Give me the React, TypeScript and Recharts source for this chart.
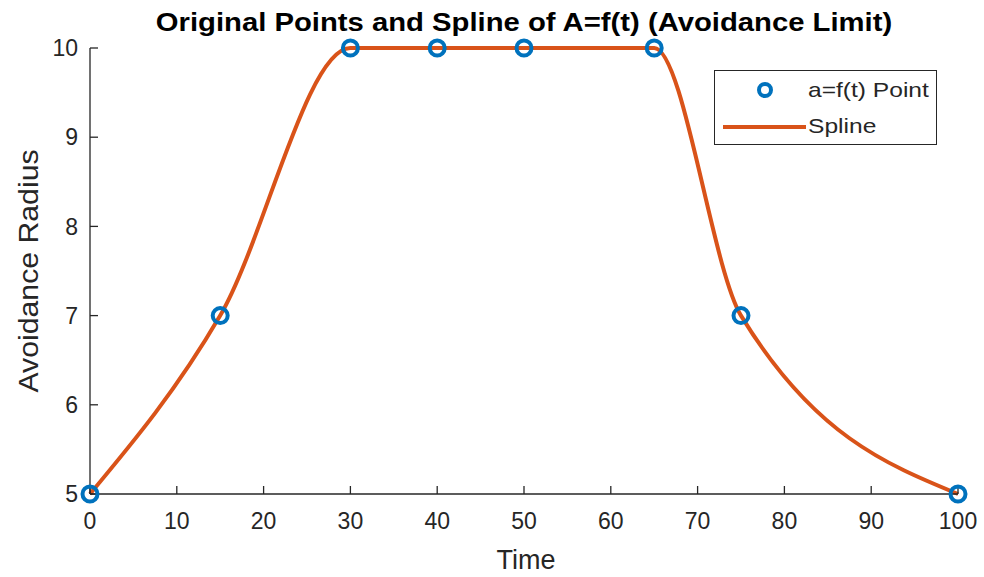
import React from 'react';
import { ComposedChart, Line, Scatter, XAxis, YAxis, Legend } from 'recharts';

const timePoints = [0, 15, 30, 40, 50, 65, 75, 100];
const radiusPoints = [5, 7, 10, 10, 10, 10, 7, 5];
const xTicks = [0, 10, 20, 30, 40, 50, 60, 70, 80, 90, 100];
const yTicks = [5, 6, 7, 8, 9, 10];
const titleText = 'Original Points and Spline of A=f(t) (Avoidance Limit)';
const xLabel = 'Time';
const yLabel = 'Avoidance Radius';
const pointName = 'a=f(t) Point';
const splineName = 'Spline';

const data = timePoints.map((t, i) => ({ t, a: radiusPoints[i] }));

const BLUE = '#0072BD';
const ORANGE = '#D95319';
const INK = '#262626';
const FONT = '"Liberation Sans", Arial, Helvetica, sans-serif';

const Ring = (props: any) => {
  const { cx, cy } = props;
  if (cx == null || cy == null) return null;
  return <circle cx={cx} cy={cy} r={7.5} fill="none" stroke={BLUE} strokeWidth={4} />;
};

const LegendBox = () => (
  <div
    style={{
      width: 223,
      height: 75,
      border: `1.3px solid ${INK}`,
      background: '#fff',
      boxSizing: 'border-box',
      position: 'relative',
      fontFamily: FONT,
      fontSize: 21,
      color: INK,
    }}
  >
    <svg width={221} height={73} style={{ position: 'absolute', left: 0, top: 0 }}>
      <circle cx={50} cy={19} r={6} fill="none" stroke={BLUE} strokeWidth={4} />
      <line x1={8} x2={91} y1={56} y2={56} stroke={ORANGE} strokeWidth={4} />
    </svg>
    <div
      style={{
        position: 'absolute',
        left: 93,
        top: 19,
        transform: 'translateY(-50%) scaleX(1.17)',
        transformOrigin: 'left center',
        whiteSpace: 'nowrap',
      }}
    >
      {pointName}
    </div>
    <div
      style={{
        position: 'absolute',
        left: 93,
        top: 55,
        transform: 'translateY(-50%) scaleX(1.17)',
        transformOrigin: 'left center',
        whiteSpace: 'nowrap',
      }}
    >
      {splineName}
    </div>
  </div>
);

export default function App() {
  const tickStyle = { fill: INK, fontSize: 23, fontFamily: FONT };
  const axisStroke = { stroke: INK, strokeWidth: 1.3 };
  return (
    <div style={{ position: 'absolute', left: 0, top: 0, width: 984, height: 577, background: '#fff' }}>
      <ComposedChart
        width={984}
        height={577}
        data={data}
        margin={{ top: 48, right: 26, bottom: 33, left: 30 }}
      >
        <XAxis
          xAxisId="bottom"
          dataKey="t"
          type="number"
          domain={[0, 100]}
          ticks={xTicks}
          orientation="bottom"
          height={50}
          tickSize={-8}
          tickMargin={27}
          tick={tickStyle}
          axisLine={axisStroke}
          tickLine={axisStroke}
        />
        <XAxis
          xAxisId="top"
          dataKey="t"
          type="number"
          domain={[0, 100]}
          ticks={xTicks}
          orientation="top"
          height={0}
          tickSize={-8}
          tickFormatter={() => ''}
          axisLine={axisStroke}
          tickLine={axisStroke}
        />
        <YAxis
          yAxisId="left"
          type="number"
          domain={[5, 10]}
          ticks={yTicks}
          orientation="left"
          width={60}
          tickSize={-8}
          tickMargin={20}
          tick={tickStyle}
          axisLine={axisStroke}
          tickLine={axisStroke}
        />
        <YAxis
          yAxisId="right"
          type="number"
          domain={[5, 10]}
          ticks={yTicks}
          orientation="right"
          width={0}
          tickSize={-8}
          tickFormatter={() => ''}
          axisLine={axisStroke}
          tickLine={axisStroke}
        />
        <Scatter
          xAxisId="bottom"
          yAxisId="left"
          name={pointName}
          dataKey="a"
          data={data}
          shape={<Ring />}
          isAnimationActive={false}
        />
        <Line
          xAxisId="bottom"
          yAxisId="left"
          name={splineName}
          type="monotone"
          dataKey="a"
          data={data}
          stroke={ORANGE}
          strokeWidth={4}
          dot={false}
          activeDot={false}
          isAnimationActive={false}
        />
        <Legend
          layout="vertical"
          align="center"
          verticalAlign="middle"
          content={() => <LegendBox />}
          wrapperStyle={{ left: 714, top: 70, width: 223, height: 75 }}
        />
      </ComposedChart>
      <div
        style={{
          position: 'absolute',
          left: 524,
          top: 22,
          transform: 'translate(-50%, -50%) scaleX(1.17)',
          whiteSpace: 'nowrap',
          fontFamily: FONT,
          fontWeight: 'bold',
          fontSize: 25,
          color: '#000',
        }}
      >
        {titleText}
      </div>
      <div
        style={{
          position: 'absolute',
          left: 526,
          top: 560,
          transform: 'translate(-50%, -50%)',
          whiteSpace: 'nowrap',
          fontFamily: FONT,
          fontSize: 27,
          color: INK,
        }}
      >
        {xLabel}
      </div>
      <div
        style={{
          position: 'absolute',
          left: 29,
          top: 271,
          transform: 'translate(-50%, -50%) rotate(-90deg) scaleX(1.12)',
          whiteSpace: 'nowrap',
          fontFamily: FONT,
          fontSize: 27,
          color: INK,
        }}
      >
        {yLabel}
      </div>
    </div>
  );
}
